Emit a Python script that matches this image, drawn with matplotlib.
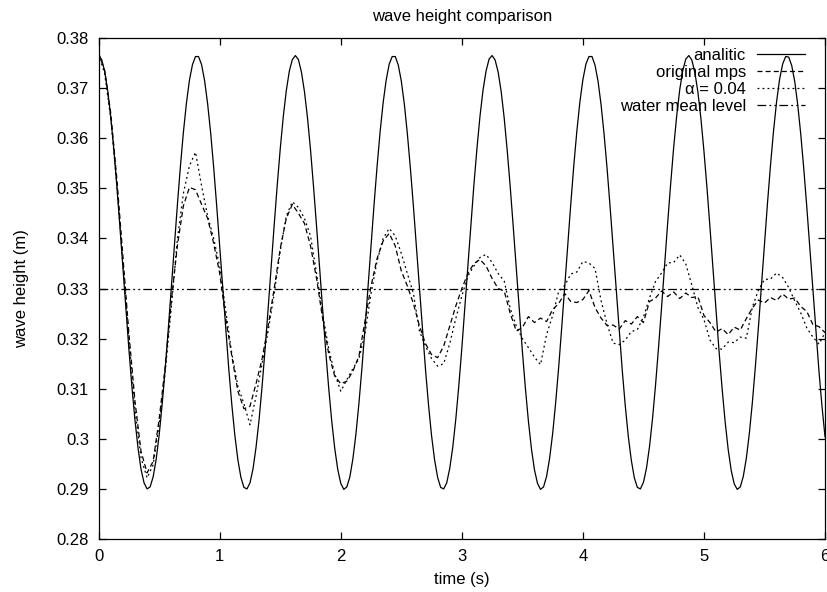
import numpy as np
import matplotlib
matplotlib.use("Agg")
import matplotlib.pyplot as plt

plt.rcParams["font.family"] = ["Liberation Sans", "DejaVu Sans"]

# sampling grids (s)
analyticTime = np.round(np.arange(241) * 0.025, 3)
simTime = np.round(np.arange(121) * 0.05, 2)

# analytic wave height, read every 0.025 s
analytic = [
    0.3765, 0.3757, 0.3733, 0.3694, 0.3642, 0.3578, 0.3505, 0.3425, 0.3342, 0.3259,
    0.3178, 0.3103, 0.3037, 0.2982, 0.2939, 0.2912, 0.2900, 0.2904, 0.2924, 0.2959,
    0.3008, 0.3070, 0.3141, 0.3219, 0.3301, 0.3385, 0.3466, 0.3543, 0.3612, 0.3670,
    0.3716, 0.3747, 0.3763, 0.3763, 0.3747, 0.3715, 0.3669, 0.3611, 0.3542, 0.3465,
    0.3383, 0.3300, 0.3217, 0.3139, 0.3068, 0.3007, 0.2958, 0.2923, 0.2903, 0.2900,
    0.2912, 0.2940, 0.2983, 0.3038, 0.3105, 0.3180, 0.3260, 0.3344, 0.3427, 0.3506,
    0.3579, 0.3643, 0.3695, 0.3734, 0.3757, 0.3765, 0.3757, 0.3732, 0.3693, 0.3641,
    0.3577, 0.3503, 0.3424, 0.3341, 0.3257, 0.3177, 0.3102, 0.3036, 0.2981, 0.2939,
    0.2911, 0.2899, 0.2904, 0.2924, 0.2960, 0.3009, 0.3071, 0.3142, 0.3220, 0.3303,
    0.3386, 0.3468, 0.3544, 0.3613, 0.3671, 0.3716, 0.3748, 0.3763, 0.3763, 0.3746,
    0.3714, 0.3668, 0.3609, 0.3540, 0.3464, 0.3382, 0.3298, 0.3216, 0.3138, 0.3067,
    0.3006, 0.2958, 0.2923, 0.2903, 0.2900, 0.2912, 0.2941, 0.2983, 0.3039, 0.3106,
    0.3181, 0.3262, 0.3345, 0.3428, 0.3508, 0.3580, 0.3644, 0.3696, 0.3734, 0.3758,
    0.3765, 0.3756, 0.3732, 0.3693, 0.3640, 0.3575, 0.3502, 0.3422, 0.3339, 0.3256,
    0.3175, 0.3101, 0.3035, 0.2980, 0.2938, 0.2911, 0.2899, 0.2904, 0.2925, 0.2961,
    0.3010, 0.3072, 0.3143, 0.3222, 0.3304, 0.3388, 0.3469, 0.3546, 0.3614, 0.3672,
    0.3717, 0.3748, 0.3763, 0.3763, 0.3746, 0.3714, 0.3667, 0.3608, 0.3539, 0.3462,
    0.3380, 0.3297, 0.3214, 0.3137, 0.3066, 0.3005, 0.2957, 0.2922, 0.2903, 0.2900,
    0.2913, 0.2941, 0.2984, 0.3040, 0.3107, 0.3183, 0.3263, 0.3347, 0.3430, 0.3509,
    0.3582, 0.3645, 0.3697, 0.3735, 0.3758, 0.3765, 0.3756, 0.3731, 0.3692, 0.3639,
    0.3574, 0.3501, 0.3421, 0.3338, 0.3254, 0.3174, 0.3100, 0.3034, 0.2979, 0.2937,
    0.2910, 0.2899, 0.2904, 0.2925, 0.2961, 0.3011, 0.3073, 0.3145, 0.3223, 0.3306,
    0.3389, 0.3471, 0.3547, 0.3615, 0.3673, 0.3718, 0.3748, 0.3763, 0.3762, 0.3745,
    0.3713, 0.3666, 0.3607, 0.3538, 0.3461, 0.3379, 0.3295, 0.3213, 0.3135, 0.3065,
    0.3004,
]

# original mps result, every 0.05 s
originalMps = [
    0.3770, 0.3735, 0.3650, 0.3520, 0.3365, 0.3210, 0.3075, 0.2975, 0.2932, 0.2955,
    0.3040, 0.3145, 0.3275, 0.3385, 0.3465, 0.3502, 0.3497, 0.3468, 0.3440, 0.3390,
    0.3330, 0.3240, 0.3165, 0.3095, 0.3060, 0.3065, 0.3110, 0.3160, 0.3225, 0.3300,
    0.3380, 0.3440, 0.3468, 0.3450, 0.3430, 0.3385, 0.3320, 0.3240, 0.3170, 0.3125,
    0.3110, 0.3115, 0.3135, 0.3165, 0.3235, 0.3305, 0.3360, 0.3395, 0.3410, 0.3385,
    0.3335, 0.3305, 0.3270, 0.3225, 0.3190, 0.3168, 0.3162, 0.3185, 0.3225, 0.3265,
    0.3300, 0.3330, 0.3350, 0.3358, 0.3345, 0.3320, 0.3300, 0.3295, 0.3250, 0.3215,
    0.3222, 0.3244, 0.3232, 0.3241, 0.3234, 0.3258, 0.3270, 0.3290, 0.3274, 0.3272,
    0.3278, 0.3296, 0.3262, 0.3241, 0.3226, 0.3227, 0.3219, 0.3236, 0.3229, 0.3244,
    0.3232, 0.3274, 0.3281, 0.3295, 0.3284, 0.3293, 0.3280, 0.3291, 0.3282, 0.3284,
    0.3246, 0.3232, 0.3213, 0.3220, 0.3208, 0.3223, 0.3217, 0.3240, 0.3261, 0.3277,
    0.3271, 0.3282, 0.3276, 0.3289, 0.3279, 0.3281, 0.3264, 0.3254, 0.3228, 0.3224,
    0.3212,
]

# alpha = 0.04 result, every 0.05 s
alphaRun = [
    0.3768, 0.3728, 0.3640, 0.3508, 0.3352, 0.3198, 0.3058, 0.2962, 0.2922, 0.2948,
    0.3030, 0.3135, 0.3262, 0.3398, 0.3490, 0.3545, 0.3572, 0.3505, 0.3445, 0.3400,
    0.3344, 0.3255, 0.3170, 0.3105, 0.3070, 0.3028, 0.3085, 0.3150, 0.3215, 0.3290,
    0.3375, 0.3445, 0.3473, 0.3462, 0.3440, 0.3405, 0.3330, 0.3250, 0.3180, 0.3130,
    0.3095, 0.3118, 0.3140, 0.3160, 0.3210, 0.3290, 0.3355, 0.3400, 0.3420, 0.3405,
    0.3370, 0.3330, 0.3290, 0.3215, 0.3185, 0.3160, 0.3145, 0.3150, 0.3190, 0.3240,
    0.3285, 0.3325, 0.3345, 0.3362, 0.3368, 0.3352, 0.3330, 0.3315, 0.3260, 0.3225,
    0.3200, 0.3182, 0.3163, 0.3148, 0.3208, 0.3246, 0.3294, 0.3306, 0.3329, 0.3333,
    0.3354, 0.3351, 0.3340, 0.3276, 0.3229, 0.3191, 0.3188, 0.3197, 0.3214, 0.3218,
    0.3243, 0.3281, 0.3314, 0.3331, 0.3351, 0.3352, 0.3367, 0.3349, 0.3307, 0.3262,
    0.3238, 0.3197, 0.3180, 0.3179, 0.3193, 0.3192, 0.3203, 0.3201, 0.3263, 0.3297,
    0.3318, 0.3319, 0.3331, 0.3322, 0.3302, 0.3275, 0.3251, 0.3221, 0.3203, 0.3189,
    0.3212,
]

waterMeanLevel = 0.33

xTicks = [0, 1, 2, 3, 4, 5, 6]
yTicks = [0.28, 0.29, 0.30, 0.31, 0.32, 0.33, 0.34, 0.35, 0.36, 0.37, 0.38]
yTickLabels = ["0.28", "0.29", "0.3", "0.31", "0.32", "0.33", "0.34", "0.35", "0.36", "0.37", "0.38"]


def plotComparison():
    fig = plt.figure(figsize=(8.27, 5.92), dpi=100)
    ax = fig.add_axes([0.1193, 0.0895, 0.8783, 0.8463])

    lineWidth = 0.9
    ax.plot(analyticTime, analytic, color="black", lw=lineWidth, label="analitic")
    ax.plot(simTime, originalMps, color="black", lw=lineWidth,
            dashes=(4, 2.5), label="original mps")
    ax.plot(simTime, alphaRun, color="black", lw=lineWidth,
            dashes=(1.5, 2.5), label="α = 0.04")
    ax.axhline(waterMeanLevel, color="black", lw=lineWidth,
               dashes=(7, 2.5, 1.5, 2.5, 1.5, 2.5), label="water mean level")

    ax.set_xlim(0, 6)
    ax.set_ylim(0.28, 0.38)
    ax.set_xticks(xTicks)
    ax.set_yticks(yTicks)
    ax.set_yticklabels(yTickLabels)
    ax.tick_params(direction="in", top=True, right=True, length=5, width=0.9,
                   labelsize=12, pad=7)
    for spine in ax.spines.values():
        spine.set_linewidth(0.9)

    ax.set_xlabel("time (s)", fontsize=12, labelpad=6)
    ax.set_ylabel("wave height (m)", fontsize=12, labelpad=20)
    ax.set_title("wave height comparison", fontsize=12, pad=12)

    ax.legend(loc="upper right", bbox_to_anchor=(0.9725, 0.980), frameon=False,
              markerfirst=False, fontsize=12, handlelength=2.9, handletextpad=0.65,
              labelspacing=0.12, borderaxespad=0, borderpad=0)

    fig.savefig("out.png", dpi=100)
    plt.close(fig)


if __name__ == "__main__":
    plotComparison()
